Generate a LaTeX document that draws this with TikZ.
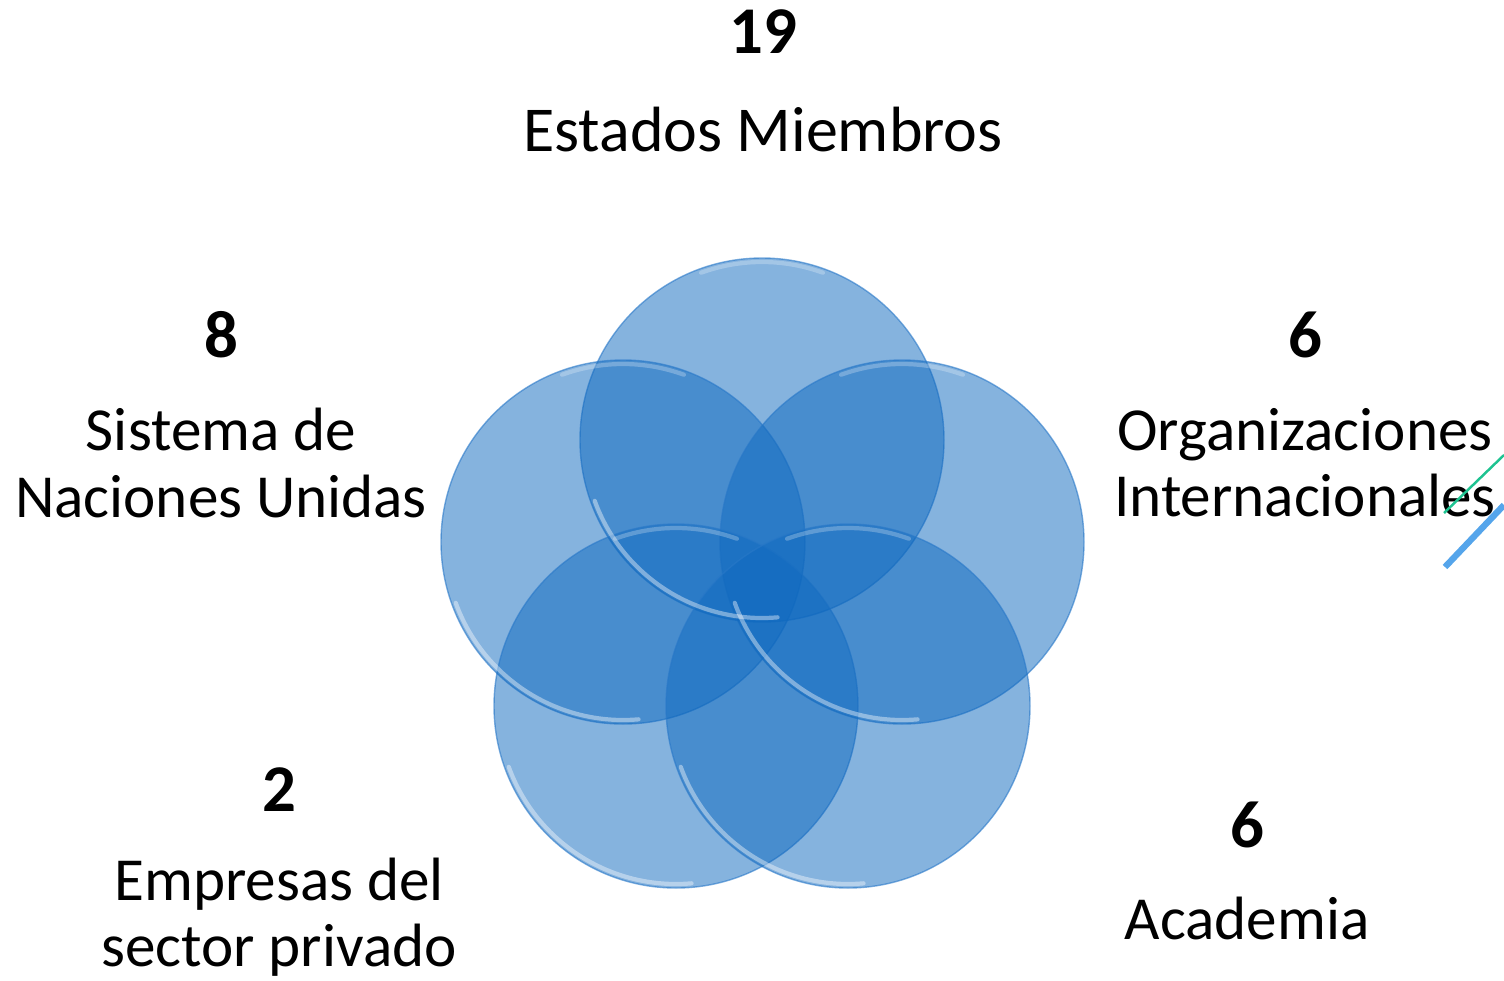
\documentclass[tikz,border=0pt]{standalone}
\usepackage{fontspec}
\setmainfont{Carlito}
\definecolor{bubblefill}{RGB}{15,105,191}
\definecolor{bubbleedge}{RGB}{40,120,200}
\definecolor{stripgreen}{RGB}{30,195,145}
\definecolor{stripblue}{RGB}{85,165,235}
\tikzset{
  bubble/.style={circle, minimum size=3.64cm, inner sep=0pt,
    fill=bubblefill, fill opacity=0.51, draw=bubbleedge, draw opacity=0.6, line width=0.4pt},
  rim/.style={white, line width=1.2pt, opacity=0.4, line cap=round},
  count/.style={font=\fontsize{19}{23}\selectfont\bfseries},
  label/.style={font=\fontsize{17.4}{18.8}\selectfont, align=center},
}
\begin{document}
\begin{tikzpicture}
  \useasboundingbox (0,0) rectangle (15.04,9.80);
  \node [bubble] (estados) at (7.62,5.40) {};
  \node [bubble] (naciones) at (6.23,4.38) {};
  \node [bubble] (organiz) at (9.02,4.38) {};
  \node [bubble] (empresas) at (6.76,2.74) {};
  \node [bubble] (academia) at (8.48,2.74) {};
  \foreach \b in {estados,naciones,organiz,empresas,academia} {
    \draw [rim] ([shift={(200:1.78)}]\b.center) arc (200:275:1.78);
    \draw [rim, opacity=0.25] ([shift={(70:1.78)}]\b.center) arc (70:110:1.78);
  }
  \node [count] (n19) at (7.63,9.48) {19};
  \node [label, font=\fontsize{18.2}{18.8}\selectfont] (estadosT) at (7.63,8.50) {Estados Miembros};
  \node [count] (n8) at (2.21,6.45) {8};
  \node [label] (nacionesT) at (2.21,5.17) {Sistema de\\Naciones Unidas};
  \node [count] (n6a) at (13.05,6.45) {6};
  \node [label] (organizT) at (13.05,5.17) {Organizaciones\\Internacionales};
  \node [count] (n2) at (2.79,1.90) {2};
  \node [label] (empresasT) at (2.79,0.63) {Empresas del\\sector privado};
  \node [count] (n6b) at (12.47,1.55) {6};
  \node [label] (academiaT) at (12.47,0.62) {Academia};
  \coordinate (g1) at (14.44,4.67);
  \coordinate (g2) at (15.04,5.25);
  \coordinate (b1) at (14.45,4.13);
  \coordinate (b2) at (15.04,4.75);
  \draw [-, stripgreen, line width=0.7pt] (g1) to (g2);
  \draw [-, stripblue, line width=1.8pt] (b1) to (b2);
\end{tikzpicture}
\end{document}
